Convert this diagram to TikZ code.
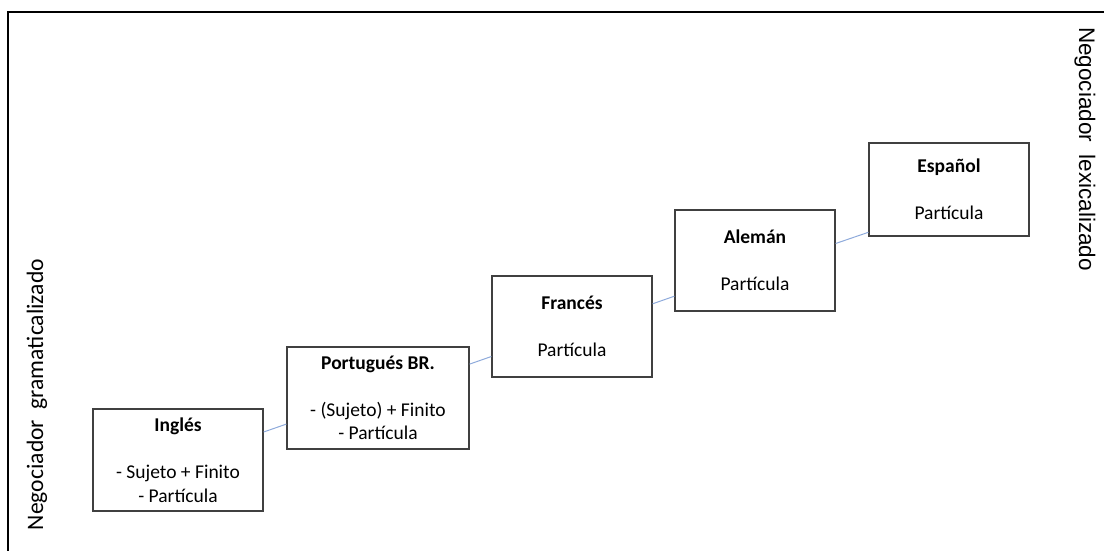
\documentclass[tikz,border=0pt]{standalone}
\usepackage{fontspec}
\setmainfont{Carlito}
\newfontfamily\arialish{Liberation Sans}
\usetikzlibrary{calc}

\definecolor{boxline}{HTML}{404040}
\definecolor{linkblue}{HTML}{8EAADB}

\tikzset{
  lang/.style={draw=boxline, line width=1.3pt, fill=white, rectangle,
    inner sep=0pt, align=center, minimum width=160pt, minimum height=101pt,
    font=\fontsize{19.5}{23.5}\selectfont},
  link/.style={draw=linkblue, line width=1pt},
  axisline/.style={draw=black, line width=2.2pt},
  sidelabel/.style={inner sep=0pt}
}

\begin{document}
\begin{tikzpicture}[x=1pt, y=-1pt]
  \useasboundingbox (0,0) rectangle (1104,551);

  % frame lines
  \coordinate (tl) at (8,12);
  \coordinate (tr) at (1104,12);
  \coordinate (bl) at (8,551);
  \draw[axisline] (tr) -- (tl) -- (bl);

  % side labels
  \node[sidelabel, rotate=90, font=\fontsize{23.6}{28}\selectfont] (left) at (37,394.5)
    {Negociador\ \ gramaticalizado};
  \node[sidelabel, rotate=-90, font=\arialish\fontsize{22.5}{27}\selectfont] (right) at (1085,149)
    {Negociador\ \ lexicalizado};

  % language boxes
  \node[lang, minimum width=170pt, minimum height=102pt] (ing) at (178,460)
    {\textbf{Inglés}\\[23.5pt]- Sujeto + Finito\\- Partícula};
  \node[lang, minimum width=182pt, minimum height=102pt] (por) at (378,398)
    {\textbf{Portugués BR.}\\[23.5pt]- (Sujeto) + Finito\\- Partícula};
  \node[lang] (fra) at (572,326.5)
    {\textbf{Francés}\\[23.5pt]Partícula};
  \node[lang] (ale) at (755,260.5)
    {\textbf{Alemán}\\[23.5pt]Partícula};
  \node[lang, minimum height=93pt] (esp) at (949,189.5)
    {\textbf{Español}\\[23.5pt]Partícula};

  % connectors along the diagonal
  \draw[link] ([yshift=28pt]ing.east) -- ([yshift=-26.1pt]por.west);
  \draw[link] ([yshift=33.9pt]por.east) -- ([yshift=-30pt]fra.west);
  \draw[link] ([yshift=22.7pt]fra.east) -- ([yshift=-35.7pt]ale.west);
  \draw[link] ([yshift=17pt]ale.east) -- ([yshift=-42.8pt]esp.west);
\end{tikzpicture}
\end{document}
